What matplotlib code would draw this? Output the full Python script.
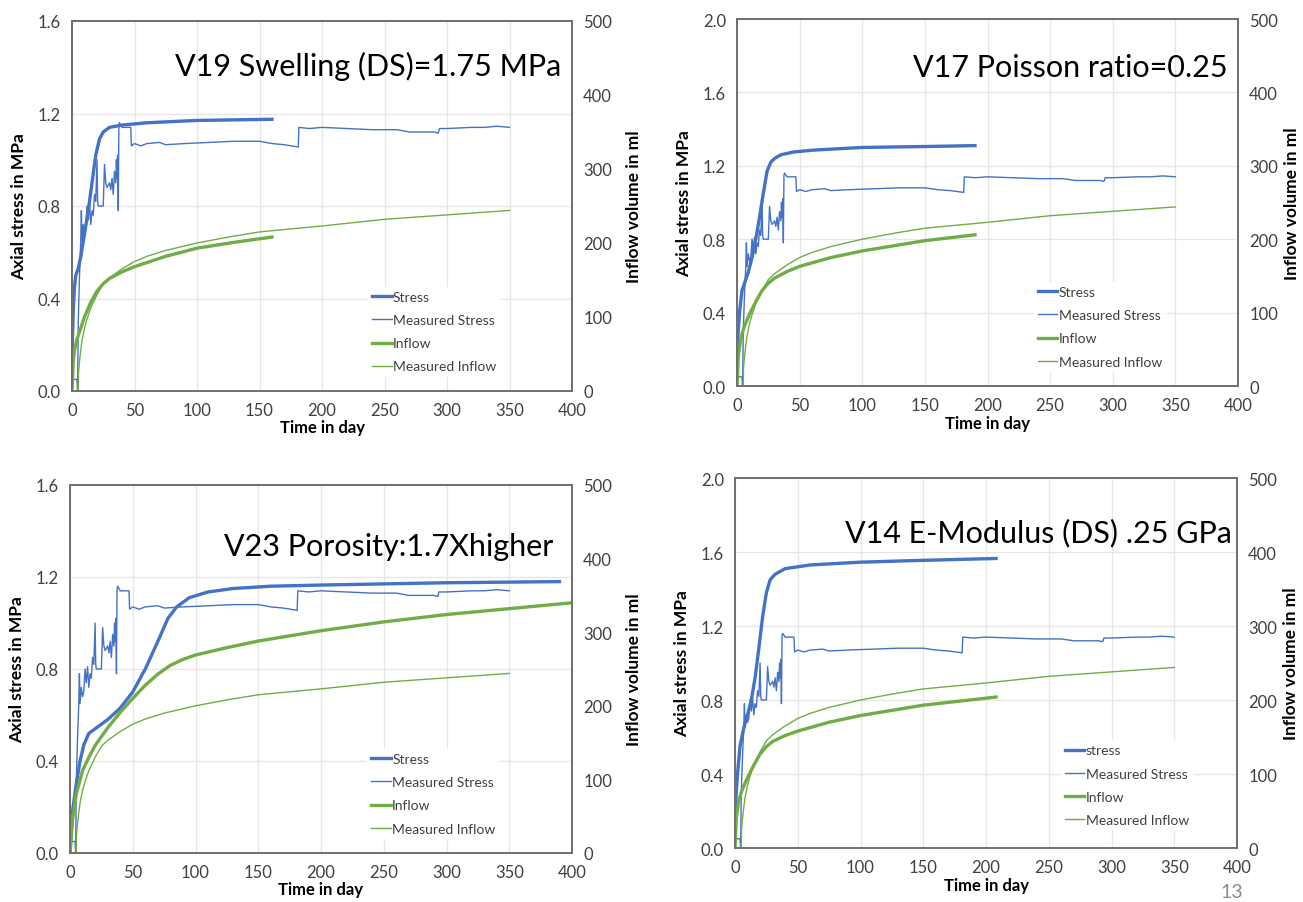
import matplotlib
matplotlib.use("Agg")
import matplotlib.pyplot as plt

plt.rcParams['font.family'] = ['Lato', 'DejaVu Sans']

# === measured data (same test in every panel) ===
meas_stress_t = [0, 0.5, 4, 4.5, 5, 6, 7, 7.5, 8, 9, 10, 11, 12, 13, 14, 15, 16, 17, 18, 19,
                 20, 20.5, 21, 25, 26, 27, 28, 30, 31, 32, 33, 34, 35, 35.5, 36, 36.5, 37, 37.5,
                 38, 40, 47, 47.5, 50, 55, 60, 70, 75, 90, 110, 130, 150, 160, 170, 181, 181.5,
                 190, 200, 220, 240, 260, 270, 290, 293, 294, 300, 320, 330, 340, 350]
meas_stress = [0.0, 0.05, 0.05, 0.0, 0.3, 0.5, 0.65, 0.78, 0.65, 0.72, 0.68, 0.7, 0.8, 0.74,
               0.81, 0.72, 0.78, 0.76, 0.85, 0.82, 1.0, 0.82, 0.8, 0.8, 0.98, 0.9, 0.88, 0.9,
               0.87, 0.92, 0.85, 0.95, 0.9, 1.0, 0.92, 1.02, 0.78, 1.15, 1.16, 1.14, 1.14, 1.06,
               1.07, 1.06, 1.07, 1.075, 1.065, 1.07, 1.075, 1.08, 1.08, 1.07, 1.065, 1.055, 1.14,
               1.135, 1.14, 1.135, 1.13, 1.13, 1.12, 1.12, 1.115, 1.135, 1.135, 1.14, 1.14,
               1.145, 1.14]

meas_inflow_t = [0, 5, 5.2, 6, 7, 8, 10, 12, 15, 20, 25, 30, 40, 50, 60, 75, 100, 125, 150,
                 200, 250, 300, 350]
meas_inflow = [0, 0, 25, 40, 55, 68, 85, 97, 112, 130, 145, 153, 165, 175, 182, 190, 200, 208,
               215, 223, 232, 238, 244]

# === simulated runs ===
titles = ["V19 Swelling (DS)=1.75 MPa", "V17 Poisson ratio=0.25",
          "V23 Porosity:1.7Xhigher", "V14 E-Modulus (DS) .25 GPa"]
stress_labels = ["Stress", "Stress", "Stress", "stress"]
stress_max = [1.6, 2.0, 1.6, 2.0]

v19_stress_t = [0, 1, 2, 3, 5, 7, 10, 13, 16, 19, 22, 25, 30, 40, 60, 100, 160]
v19_stress = [0.15, 0.35, 0.45, 0.5, 0.53, 0.58, 0.68, 0.78, 0.9, 1.02, 1.09, 1.12, 1.14,
              1.15, 1.16, 1.17, 1.175]
v19_inflow_t = [0, 1, 2, 4, 7, 10, 15, 20, 25, 30, 40, 50, 75, 100, 130, 160]
v19_inflow = [0, 40, 55, 70, 85, 100, 120, 135, 145, 152, 161, 168, 182, 193, 201, 208]

v17_stress_t = [0, 2, 4, 6, 9, 12, 15, 18, 21, 24, 27, 30, 35, 45, 60, 100, 150, 190]
v17_stress = [0.2, 0.4, 0.52, 0.56, 0.62, 0.7, 0.8, 0.92, 1.05, 1.17, 1.22, 1.24, 1.26,
              1.275, 1.285, 1.3, 1.305, 1.31]
v17_inflow_t = [0, 1, 3, 6, 10, 15, 20, 25, 30, 40, 50, 75, 100, 150, 190]
v17_inflow = [0, 40, 65, 82, 98, 115, 130, 140, 147, 156, 163, 175, 184, 198, 206]

v23_stress_t = [0, 2, 5, 8, 11, 15, 20, 30, 40, 50, 60, 70, 78, 85, 95, 110, 130, 160, 200,
                250, 300, 390]
v23_stress = [0.0, 0.18, 0.3, 0.4, 0.47, 0.52, 0.54, 0.58, 0.63, 0.7, 0.8, 0.92, 1.02, 1.07,
              1.11, 1.135, 1.15, 1.16, 1.165, 1.17, 1.175, 1.18]
v23_inflow_t = [0, 2, 5, 10, 15, 20, 30, 40, 50, 60, 70, 80, 90, 100, 125, 150, 200, 250,
                300, 350, 400]
v23_inflow = [0, 45, 80, 112, 130, 146, 170, 191, 210, 228, 243, 255, 263, 269, 279, 288,
              302, 314, 324, 332, 340]

v14_stress_t = [0, 2, 4, 7, 10, 13, 16, 19, 22, 25, 28, 32, 40, 60, 100, 150, 208]
v14_stress = [0.2, 0.4, 0.55, 0.65, 0.72, 0.8, 0.92, 1.08, 1.25, 1.38, 1.45, 1.48, 1.51,
              1.53, 1.545, 1.555, 1.565]
v14_inflow_t = [0, 1, 3, 6, 10, 15, 20, 25, 30, 40, 50, 75, 100, 150, 208]
v14_inflow = [0, 40, 65, 80, 95, 112, 127, 137, 144, 152, 158, 170, 179, 193, 204]

sim_runs = [
    (v19_stress_t, v19_stress, v19_inflow_t, v19_inflow),
    (v17_stress_t, v17_stress, v17_inflow_t, v17_inflow),
    (v23_stress_t, v23_stress, v23_inflow_t, v23_inflow),
    (v14_stress_t, v14_stress, v14_inflow_t, v14_inflow),
]

BLUE = '#4472C4'
GREEN = '#70AD47'
W, H = 1303, 903

# axes boxes in pixels: left, top, right, bottom
boxes = [(72, 22, 572, 392), (737, 20, 1238, 387), (70, 486, 572, 854), (735, 479, 1237, 849)]
title_pos = [(0.978, 0.88), (0.98, 0.87), (0.963, 0.835), (0.99, 0.855)]
legend_pos = [(0.578, 0.02), (0.578, 0.02), (0.578, 0.02), (0.635, 0.03)]
right_pad = [10, 4, 10, 4]


def draw_panel(fig, i):
    l, t, r, b = boxes[i]
    ax = fig.add_axes([l / W, 1 - b / H, (r - l) / W, (b - t) / H])
    ax2 = ax.twinx()
    st_t, st, in_t, inf = sim_runs[i]

    ax.plot(st_t, st, color=BLUE, lw=2.4, label=stress_labels[i])
    ax.plot(meas_stress_t, meas_stress, color=BLUE, lw=1.0, label='Measured Stress')
    ax2.plot(in_t, inf, color=GREEN, lw=2.4, label='Inflow')
    ax2.plot(meas_inflow_t, meas_inflow, color=GREEN, lw=1.0, label='Measured Inflow')

    ax.set_xlim(0, 400)
    ax.set_ylim(0, stress_max[i])
    ax.set_xticks(range(0, 401, 50))
    ax.set_yticks([k * 0.4 for k in range(int(round(stress_max[i] / 0.4)) + 1)])
    ax.yaxis.set_major_formatter(matplotlib.ticker.FormatStrFormatter('%.1f'))
    ax2.set_ylim(0, 500)
    ax2.set_yticks(range(0, 501, 100))

    ax.grid(True, color='#e6e6e6', lw=0.9)
    ax.set_axisbelow(True)
    for a in (ax, ax2):
        a.tick_params(length=0, labelsize=12, labelcolor='#404040', pad=8)
        for s in a.spines.values():
            s.set_color('#707070')
            s.set_linewidth(1.3)

    ax.set_xlabel('Time in day', fontweight='bold', fontsize=12, labelpad=1)
    ax.set_ylabel('Axial stress in MPa', fontweight='bold', fontsize=12.5, labelpad=8)
    ax2.set_ylabel('Inflow volume in ml', fontweight='bold', fontsize=12.5, labelpad=right_pad[i])

    ax2.text(title_pos[i][0], title_pos[i][1], titles[i], transform=ax.transAxes,
             ha='right', va='center', fontsize=22, color='black')

    h1, l1 = ax.get_legend_handles_labels()
    h2, l2 = ax2.get_legend_handles_labels()
    leg = ax2.legend(h1 + h2, l1 + l2, loc='lower left', bbox_to_anchor=legend_pos[i],
                     fontsize=10, handlelength=1.4, handletextpad=0.1, labelspacing=0.8,
                     frameon=True, facecolor='white', edgecolor='none', framealpha=1,
                     borderpad=0.3)
    for txt in leg.get_texts():
        txt.set_color('#404040')


fig = plt.figure(figsize=(W / 100, H / 100), dpi=100)
for i in range(4):
    draw_panel(fig, i)
fig.text(1232 / W, 1 - 893 / H, '13', ha='center', va='center', fontsize=14, color='#8c8c8c')
fig.savefig('out.png', dpi=100)
